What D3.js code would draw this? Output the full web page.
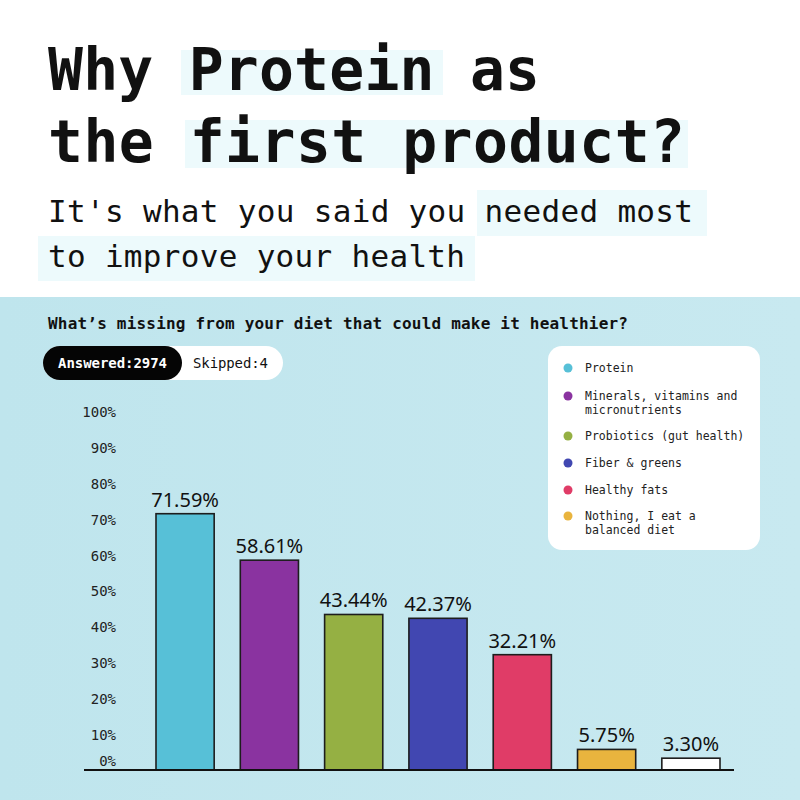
<!DOCTYPE html>
<html>
<head>
<meta charset="utf-8">
<script src="https://cdn.jsdelivr.net/npm/d3@7"></script>
<style>
  html, body { margin: 0; padding: 0; background: #fff; }
  svg { display: block; }
</style>
</head>
<body>
<svg id="chart" width="800" height="800"></svg>
<script>
// data
const categories = ["Protein", "Minerals, vitamins and micronutrients", "Probiotics (gut health)",
    "Fiber & greens", "Healthy fats", "Nothing, I eat a balanced diet", "Other"];
const values = [71.59, 58.61, 43.44, 42.37, 32.21, 5.75, 3.30];
const colors = ["#57c0d7", "#8a33a0", "#95b043", "#4147b1", "#e03c67", "#e9b43e", "#ffffff"];
const legendItems = [["Protein"], ["Minerals, vitamins and", "micronutrients"], ["Probiotics (gut health)"],
    ["Fiber & greens"], ["Healthy fats"], ["Nothing, I eat a", "balanced diet"]];
const yTicks = [0, 10, 20, 30, 40, 50, 60, 70, 80, 90, 100];

const MONO = "'DejaVu Sans Mono', 'Liberation Mono', monospace";
const SANS = "'Noto Sans', 'Open Sans', sans-serif";
const INK = "#111";

const svg = d3.select("#chart");

// ---- header ----
svg.append("rect").attr("width", 800).attr("height", 800).attr("fill", "#fff");

const hl = "#edfafc";
[[181, 50, 262, 45], [185, 120, 503, 48], [477, 190, 230, 46], [38, 236, 437, 45]].forEach(b => {
    svg.append("rect")
        .attr("x", b[0]).attr("y", b[1])
        .attr("width", b[2]).attr("height", b[3])
        .attr("fill", hl)
})

const title = [["Why Protein as", 90, 492], ["the first product?", 162, 637]];
title.forEach(t => {
    svg.append("text")
        .text(t[0])
        .attr("x", 48).attr("y", t[1])
        .attr("font-family", MONO)
        .attr("font-weight", "bold")
        .attr("font-size", 58)
        .attr("textLength", t[2])
        .attr("fill", INK)
})

const sub = [["It's what you said you needed most", 222, 645], ["to improve your health", 267, 417]];
sub.forEach(t => {
    svg.append("text")
        .text(t[0])
        .attr("x", 48).attr("y", t[1])
        .attr("font-family", MONO)
        .attr("font-size", 31)
        .attr("textLength", t[2])
        .attr("fill", INK)
})

// ---- lower panel ----
const grad = svg.append("defs").append("linearGradient")
    .attr("id", "panel").attr("x1", "0").attr("x2", "1").attr("y1", "0").attr("y2", "0");
grad.append("stop").attr("offset", "0").attr("stop-color", "#bfe5ed");
grad.append("stop").attr("offset", "1").attr("stop-color", "#c8e9f0");

svg.append("rect")
    .attr("x", 0).attr("y", 297)
    .attr("width", 800).attr("height", 503)
    .attr("fill", "url(#panel)");

svg.append("text")
    .text("What\u2019s missing from your diet that could make it healthier?")
    .attr("x", 48).attr("y", 329)
    .attr("font-family", MONO)
    .attr("font-weight", "bold")
    .attr("font-size", 16)
    .attr("textLength", 580)
    .attr("fill", INK);

// answered / skipped pill
svg.append("rect")
    .attr("x", 43).attr("y", 346)
    .attr("width", 240).attr("height", 34)
    .attr("rx", 17).attr("fill", "#fff");
svg.append("rect")
    .attr("x", 43).attr("y", 346)
    .attr("width", 139).attr("height", 34)
    .attr("rx", 17).attr("fill", "#050505");
svg.append("text")
    .text("Answered:2974")
    .attr("x", 58).attr("y", 368)
    .attr("font-family", MONO).attr("font-weight", "bold")
    .attr("font-size", 14).attr("textLength", 109)
    .attr("fill", "#fff");
svg.append("text")
    .text("Skipped:4")
    .attr("x", 193).attr("y", 368)
    .attr("font-family", MONO)
    .attr("font-size", 14).attr("textLength", 75)
    .attr("fill", INK);

// legend
const legend = svg.append("g").attr("transform", "translate(548,346)");
legend.append("rect")
    .attr("width", 212).attr("height", 204)
    .attr("rx", 14).attr("fill", "#fff");
const legendY = [22, 50, 90, 117, 144, 170];
legendItems.forEach((lines, i) => {
    const g = legend.append("g").attr("transform", "translate(0," + legendY[i] + ")");
    g.append("circle")
        .attr("cx", 20).attr("cy", 0).attr("r", 4.5)
        .attr("fill", colors[i]);
    lines.forEach((ln, j) => {
        g.append("text")
            .text(ln)
            .attr("x", 37).attr("y", j * 14)
            .attr("dy", "0.35em")
            .attr("font-family", MONO)
            .attr("font-size", 11.5)
            .attr("fill", "#222");
    })
})

// ---- bars ----
const x = d3.scaleBand()
    .domain(categories)
    .range([156, 720])
    .paddingInner(0.31)
    .paddingOuter(0);

const y = d3.scaleLinear()
    .domain([0, 100])
    .range([770, 412]);

const axis = d3.axisLeft(y)
    .tickValues(yTicks)
    .tickSize(0)
    .tickPadding(0)
    .tickFormat(d => d + "%");

const ax = svg.append("g")
    .attr("transform", "translate(116,0)")
    .call(axis);
ax.select(".domain").remove();
ax.selectAll(".tick text")
    .attr("font-family", MONO)
    .attr("font-size", 14)
    .attr("fill", "#222")
    .attr("dy", d => d === 0 ? "-0.3em" : "0.35em");

svg.selectAll(".bar")
    .data(values)
    .join("rect")
    .attr("class", "bar")
    .attr("x", (d, i) => x(categories[i]))
    .attr("y", d => y(d))
    .attr("width", x.bandwidth())
    .attr("height", d => y(0) - y(d))
    .attr("fill", (d, i) => colors[i])
    .attr("stroke", "#1d1d1d")
    .attr("stroke-width", 1.6);

svg.selectAll(".val")
    .data(values)
    .join("text")
    .attr("class", "val")
    .text(d => d.toFixed(2) + "%")
    .attr("x", (d, i) => x(categories[i]) + x.bandwidth() / 2)
    .attr("y", d => y(d) - 7)
    .attr("text-anchor", "middle")
    .attr("font-family", SANS)
    .attr("font-size", 20)
    .attr("fill", INK);

// baseline
svg.append("line")
    .attr("x1", 84).attr("x2", 734)
    .attr("y1", y(0)).attr("y2", y(0))
    .attr("stroke", "#111")
    .attr("stroke-width", 2);
</script>
</body>
</html>
